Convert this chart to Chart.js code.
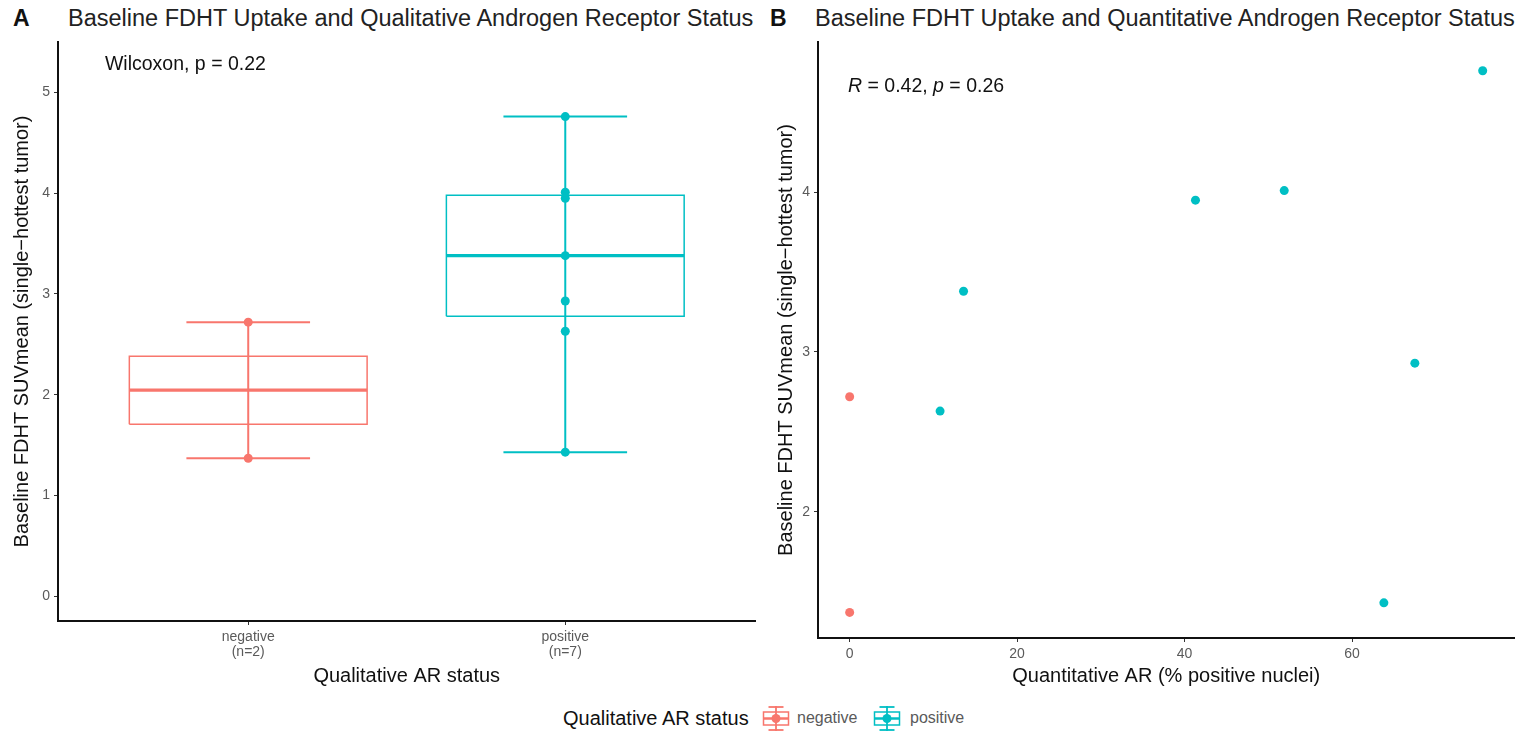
<!DOCTYPE html>
<html>
<head>
<meta charset="utf-8">
<script src="https://cdn.jsdelivr.net/npm/chart.js@4.4.1/dist/chart.umd.min.js"></script>
<style>
  html,body{margin:0;padding:0;background:#fff;width:1519px;height:735px;overflow:hidden;font-family:"Liberation Sans",Arial,sans-serif;}
  .abs{position:absolute;white-space:nowrap;}
  canvas{position:absolute;}
</style>
</head>
<body>
<div class="abs" style="left:13px;top:4px;font-weight:bold;font-size:23px;line-height:28px;color:#111">A</div>
<div class="abs" style="left:68px;top:4px;font-size:23.5px;line-height:28px;color:#222">Baseline FDHT Uptake and Qualitative Androgen Receptor Status</div>
<div class="abs" style="left:770px;top:4px;font-weight:bold;font-size:23px;line-height:28px;color:#111">B</div>
<div class="abs" style="left:815px;top:4px;font-size:23.5px;line-height:28px;color:#222">Baseline FDHT Uptake and Quantitative Androgen Receptor Status</div>

<div style="position:absolute;left:0;top:36px;width:760px;height:664px;"><canvas id="cA" width="760" height="664" style="left:0;top:0;width:760px;height:664px"></canvas></div>
<div style="position:absolute;left:760px;top:36px;width:759px;height:664px;"><canvas id="cB" width="759" height="664" style="left:0;top:0;width:759px;height:664px"></canvas></div>

<div id="legend"></div>

<script>
// ---------------- data ----------------
const groups = ['negative', 'positive'];
const groupN = ['(n=2)', '(n=7)'];
const suvNegative = [2.72, 1.37];
const suvPositive = [4.76, 4.01, 3.95, 3.38, 2.93, 2.63, 1.43];
const arNegative = [0, 0];
const arPositive = [75.6, 51.9, 41.3, 13.6, 67.5, 10.8, 63.8];
const yTicksA = [0, 1, 2, 3, 4, 5];
const yTicksB = [2, 3, 4];
const xTicksB = [0, 20, 40, 60];
const statTextA = 'Wilcoxon, p = 0.22';
const statTextB = [['R', true], [' = 0.42, ', false], ['p', true], [' = 0.26', false]];

// ---------------- styles ----------------
const COLORS = ['#F8766D', '#00BFC4'];
const FONT = '"Liberation Sans", Arial, sans-serif';
const TICK_COLOR = '#5a5a5a';
const BOX_HALF = 0.375, CAP_HALF = 0.195;

function quantile(arr, p) {
  const s = [...arr].sort((a, b) => a - b);
  const h = (s.length - 1) * p, lo = Math.floor(h), hi = Math.ceil(h);
  return s[lo] + (s[hi] - s[lo]) * (h - lo);
}

function lineDs(data, color, width, order) {
  return { type: 'scatter', data, showLine: true, borderColor: color, borderWidth: width,
           pointRadius: 0, fill: false, tension: 0, order, borderJoinStyle: 'miter', borderCapStyle: 'butt' };
}
function pointDs(data, color, order) {
  return { type: 'scatter', data, pointRadius: 4.5, pointHoverRadius: 4.5, backgroundColor: color,
           borderColor: color, borderWidth: 0, showLine: false, order };
}

function axisCommon(ticksArr, extra) {
  return Object.assign({
    type: 'linear',
    border: { display: true, color: '#111', width: 2 },
    grid: { display: true, drawOnChartArea: false, drawTicks: true, tickLength: 4, color: '#333', lineWidth: 1 },
    afterBuildTicks: s => { s.ticks = ticksArr.map(v => ({ value: v })); },
    ticks: { color: TICK_COLOR, font: { family: FONT, size: 14 }, autoSkip: false, maxRotation: 0, padding: 4 }
  }, extra);
}
function fixY(w) { return s => { s.width = w; s.paddingTop = 0; s.paddingBottom = 0; }; }
function fixX(h) { return s => { s.height = h; s.paddingLeft = 0; s.paddingRight = 0; }; }

// ---------------- panel A ----------------
const suvGroups = [suvNegative, suvPositive];
const dsA = [];
suvGroups.forEach((vals, i) => {
  const c = i + 1, col = COLORS[i];
  const q1 = quantile(vals, 0.25), med = quantile(vals, 0.5), q3 = quantile(vals, 0.75);
  const mn = Math.min(...vals), mx = Math.max(...vals);
  dsA.push(lineDs([{x:c-BOX_HALF,y:q1},{x:c+BOX_HALF,y:q1},{x:c+BOX_HALF,y:q3},{x:c-BOX_HALF,y:q3},{x:c-BOX_HALF,y:q1}], col, 1.5, 5));
  dsA.push(lineDs([{x:c-BOX_HALF,y:med},{x:c+BOX_HALF,y:med}], col, 3.2, 4));
  dsA.push(lineDs([{x:c,y:mn},{x:c,y:mx}], col, 2, 3));
  dsA.push(lineDs([{x:c-CAP_HALF,y:mx},{x:c+CAP_HALF,y:mx}], col, 2, 3));
  dsA.push(lineDs([{x:c-CAP_HALF,y:mn},{x:c+CAP_HALF,y:mn}], col, 2, 3));
  dsA.push(pointDs(vals.map(v => ({ x: c, y: v })), col, 1));
});

const annotA = {
  id: 'annotA',
  afterDatasetsDraw(chart) {
    const { ctx, scales: { x, y } } = chart;
    ctx.save();
    ctx.font = '19.5px ' + FONT;
    ctx.fillStyle = '#111';
    ctx.textBaseline = 'middle';
    ctx.textAlign = 'left';
    ctx.fillText(statTextA, x.getPixelForValue(0.548), y.getPixelForValue(5.28));
    ctx.restore();
  }
};

new Chart(document.getElementById('cA'), {
  type: 'scatter',
  data: { datasets: dsA },
  options: {
    responsive: false, animation: false, events: [],
    layout: { padding: { top: 6, right: 3, left: 0, bottom: 0 } },
    plugins: { legend: { display: false }, tooltip: { enabled: false } },
    scales: {
      x: axisCommon([1, 2], {
        min: 0.4, max: 2.6,
        afterFit: fixX(79),
        ticks: { color: TICK_COLOR, font: { family: FONT, size: 14, lineHeight: 1.1 }, autoSkip: false, maxRotation: 0, padding: 4,
                 callback: v => { const i = Math.round(v) - 1; return [groups[i], groupN[i]]; } },
        title: { display: true, text: 'Qualitative AR status', color: '#111', font: { family: FONT, size: 20 }, padding: { top: 2, bottom: 12 } }
      }),
      y: axisCommon(yTicksA, {
        min: -0.245, max: 5.5,
        afterFit: fixY(58),
        title: { display: true, text: 'Baseline FDHT SUVmean (single\u2212hottest tumor)', color: '#111', font: { family: FONT, size: 20 }, padding: { top: 10, bottom: 2 } }
      })
    }
  },
  plugins: [annotA]
});

// ---------------- panel B ----------------
const dsB = [
  pointDs(arNegative.map((v, i) => ({ x: v, y: suvNegative[i] })), COLORS[0], 1),
  pointDs(arPositive.map((v, i) => ({ x: v, y: suvPositive[i] })), COLORS[1], 1)
];

const annotB = {
  id: 'annotB',
  afterDatasetsDraw(chart) {
    const { ctx, scales: { x, y } } = chart;
    ctx.save();
    ctx.fillStyle = '#111';
    ctx.textBaseline = 'middle';
    ctx.textAlign = 'left';
    let px = x.getPixelForValue(-0.2);
    const py = y.getPixelForValue(4.66);
    statTextB.forEach(([t, it]) => {
      ctx.font = (it ? 'italic ' : '') + '19.5px ' + FONT;
      ctx.fillText(t, px, py);
      px += ctx.measureText(t).width;
    });
    ctx.restore();
  }
};

new Chart(document.getElementById('cB'), {
  type: 'scatter',
  data: { datasets: dsB },
  options: {
    responsive: false, animation: false, events: [],
    layout: { padding: { top: 6, right: 3, left: 0, bottom: 0 } },
    plugins: { legend: { display: false }, tooltip: { enabled: false } },
    scales: {
      x: axisCommon(xTicksB, {
        min: -3.78, max: 79.4,
        afterFit: fixX(62),
        title: { display: true, text: 'Quantitative AR (% positive nuclei)', color: '#111', font: { family: FONT, size: 20 }, padding: { top: 2, bottom: 12 } }
      }),
      y: axisCommon(yTicksB, {
        min: 1.21, max: 4.94,
        afterFit: fixY(58),
        title: { display: true, text: 'Baseline FDHT SUVmean (single\u2212hottest tumor)', color: '#111', font: { family: FONT, size: 20 }, padding: { top: 14, bottom: 2 } }
      })
    }
  },
  plugins: [annotB]
});

// ---------------- legend ----------------
function keySvg(col) {
  return '<svg width="28" height="27" viewBox="0 0 28 27" xmlns="http://www.w3.org/2000/svg">' +
    '<rect x="1.5" y="7" width="25" height="13" fill="none" stroke="' + col + '" stroke-width="1.5"/>' +
    '<line x1="1.5" y1="13.5" x2="26.5" y2="13.5" stroke="' + col + '" stroke-width="2.5"/>' +
    '<line x1="14" y1="1" x2="14" y2="26" stroke="' + col + '" stroke-width="1.8"/>' +
    '<line x1="6.5" y1="2" x2="21.5" y2="2" stroke="' + col + '" stroke-width="1.8"/>' +
    '<line x1="6.5" y1="25" x2="21.5" y2="25" stroke="' + col + '" stroke-width="1.8"/>' +
    '<circle cx="14" cy="13.5" r="4.5" fill="' + col + '"/></svg>';
}
const leg = document.getElementById('legend');
leg.innerHTML =
  '<div class="abs" style="left:563px;top:706px;font-size:20px;line-height:24px;color:#111">Qualitative AR status</div>' +
  '<div class="abs" style="left:762px;top:705px;">' + keySvg(COLORS[0]) + '</div>' +
  '<div class="abs" style="left:797px;top:709px;font-size:16px;line-height:18px;color:' + TICK_COLOR + '">' + groups[0] + '</div>' +
  '<div class="abs" style="left:873px;top:705px;">' + keySvg(COLORS[1]) + '</div>' +
  '<div class="abs" style="left:910px;top:709px;font-size:16px;line-height:18px;color:' + TICK_COLOR + '">' + groups[1] + '</div>';
</script>
</body>
</html>
